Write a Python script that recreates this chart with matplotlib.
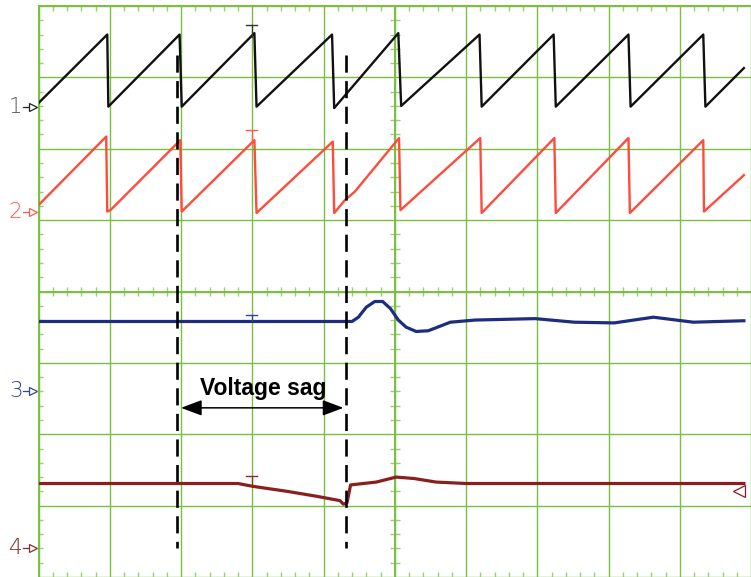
import matplotlib
matplotlib.use("Agg")
import matplotlib.pyplot as plt
import numpy as np

# scope screen, units are divisions (x: 0..10, y: -4..4)
ch1_t = [0.0, 0.965, 0.98, 1.98, 2.01, 3.03, 3.06, 4.12, 4.15, 5.05, 5.09,
         6.19, 6.22, 7.23, 7.26, 8.28, 8.31, 9.33, 9.36, 9.90]
ch1_v = [2.64, 3.60, 2.59, 3.60, 2.59, 3.62, 2.59, 3.60, 2.57, 3.62, 2.60,
         3.60, 2.59, 3.60, 2.59, 3.60, 2.59, 3.60, 2.59, 3.13]

ch2_t = [0.0, 0.95, 0.965, 1.01, 1.99, 2.01, 3.03, 3.06, 4.13, 4.15, 4.30, 4.44,
         5.06, 5.08, 6.20, 6.22, 7.24, 7.26, 8.28, 8.30, 9.33, 9.34, 9.90]
ch2_v = [1.21, 2.17, 1.12, 1.14, 2.12, 1.12, 2.12, 1.10, 2.10, 1.10, 1.28, 1.40,
         2.15, 1.14, 2.15, 1.10, 2.15, 1.10, 2.15, 1.10, 2.12, 1.12, 1.63]

ch3_t = [0.0, 4.40, 4.49, 4.60, 4.72, 4.83, 4.94, 5.05, 5.16, 5.30, 5.47,
         5.60, 5.78, 6.13, 6.97, 7.52, 8.08, 8.63, 9.19, 9.90]
ch3_v = [-0.42, -0.42, -0.36, -0.22, -0.14, -0.14, -0.24, -0.40, -0.50, -0.56, -0.55,
         -0.50, -0.43, -0.40, -0.38, -0.43, -0.44, -0.36, -0.43, -0.41]

ch4_t = [0.0, 2.80, 3.01, 3.49, 3.91, 4.23, 4.28, 4.33, 4.38, 4.74, 5.02,
         5.27, 5.58, 6.00, 9.90]
ch4_v = [-2.69, -2.69, -2.73, -2.80, -2.87, -2.93, -2.98, -2.96, -2.71, -2.67, -2.60,
         -2.62, -2.67, -2.69, -2.69]

channels    = ["1", "2", "3", "4"]
ch_colors   = ["#111111", "#ff4b3c", "#1e2d80", "#8a1f1f"]
label_color = ["#555555", "#ff5b4b", "#34449a", "#8b2d2d"]
ground      = [2.59, 1.11, -1.40, -3.59]
trig_bar    = [3.74, 2.26, -0.33, -2.58]
trig_stem   = [3.57, 2.10, -0.42, -2.72]
TRIG_T      = 2.99

sag_start, sag_end = 1.95, 4.31
GREEN = "#78c040"
TICK_GREEN = "#96cf6c"

fig = plt.figure(figsize=(7.51, 5.77), dpi=100)
ax = fig.add_axes([38.5 / 751, 0.0, 1 - 38.5 / 751, 1 - 6 / 577])
ax.set_xlim(0, 712.5 / 72)
ax.set_ylim(-4, 4)

# graticule
ax.set_xticks(np.arange(0, 11))
ax.set_yticks(np.arange(-4, 5))
ax.grid(True, color=GREEN, linewidth=1.0)
ax.tick_params(length=0, labelbottom=False, labelleft=False)
for side in ["right", "bottom"]:
    ax.spines[side].set_visible(False)
for side in ["left", "top"]:
    ax.spines[side].set_color(GREEN)
    ax.spines[side].set_linewidth(1.4)

minor_x = [x for x in np.arange(0, 10.01, 0.2) if abs(x - round(x)) > 1e-6]
minor_y = [y for y in np.arange(-4, 4.01, 0.2) if abs(y - round(y)) > 1e-6]
tx, ty = 5 / 72, 5 / 71.4
ax.vlines(minor_x, 4 - ty, 4, color=TICK_GREEN, lw=1.0)
ax.vlines(minor_x, -4, -4 + ty, color=TICK_GREEN, lw=1.0)
ax.vlines(minor_x, -ty, ty, color=TICK_GREEN, lw=1.0)
ax.hlines(minor_y, 0, tx, color=TICK_GREEN, lw=1.0)
ax.hlines(minor_y, 5 - tx, 5 + tx, color=TICK_GREEN, lw=1.0)
ax.axvline(5, color=GREEN, lw=1.4)
ax.axhline(0, color=GREEN, lw=1.4)

# traces
ax.plot(ch1_t, ch1_v, color=ch_colors[0], lw=1.7, zorder=5)
ax.plot(ch2_t, ch2_v, color=ch_colors[1], lw=1.7, zorder=5)
ax.plot(ch3_t, ch3_v, color=ch_colors[2], lw=2.3, zorder=5)
ax.plot(ch4_t, ch4_v, color=ch_colors[3], lw=2.3, zorder=5)

# trigger tees
for i in range(4):
    c = label_color[i] if i != 0 else "#333333"
    ax.plot([TRIG_T, TRIG_T], [trig_stem[i], trig_bar[i]], color=c, lw=0.9, zorder=6)
    ax.plot([TRIG_T - 0.08, TRIG_T + 0.08], [trig_bar[i]] * 2, color=c, lw=1.0, zorder=6)

# channel ground markers
for i, name in enumerate(channels):
    ax.text(-0.32, ground[i], name, color=label_color[i], fontsize=15.5,
            fontweight="ultralight", ha="center", va="center", clip_on=False)
    ac = "#222222" if i == 0 else label_color[i]
    ax.plot([-0.215, -0.11], [ground[i]] * 2, color=ac, lw=0.9, clip_on=False)
    ax.plot([-0.075], [ground[i]], marker=">", ms=6, mfc="white", mec=ac,
            mew=0.9, clip_on=False)

# off-screen marker for channel 4
ax.plot([9.83], [-2.79], marker="<", ms=8, mfc="white", mec=ch_colors[3],
        mew=0.9, clip_on=False, zorder=6)

# sag cursors
for xs in [sag_start, sag_end]:
    ax.plot([xs, xs], [3.31, -3.59], color="black", lw=1.9,
            linestyle=(0, (6.5, 3.2)), zorder=7)

ax.annotate("", xy=(2.0, -1.63), xytext=(4.28, -1.63),
            arrowprops=dict(arrowstyle="<|-|>,head_length=0.8,head_width=0.3",
                            mutation_scale=16, color="black", lw=1.1,
                            shrinkA=0, shrinkB=0), zorder=8)
ax.text(3.16, -1.45, "Voltage sag", fontsize=16.5, fontweight="bold",
        family=["Liberation Sans Narrow", "Liberation Sans"],
        ha="center", va="baseline", zorder=8)

fig.savefig("out.png", dpi=100, facecolor="white")
